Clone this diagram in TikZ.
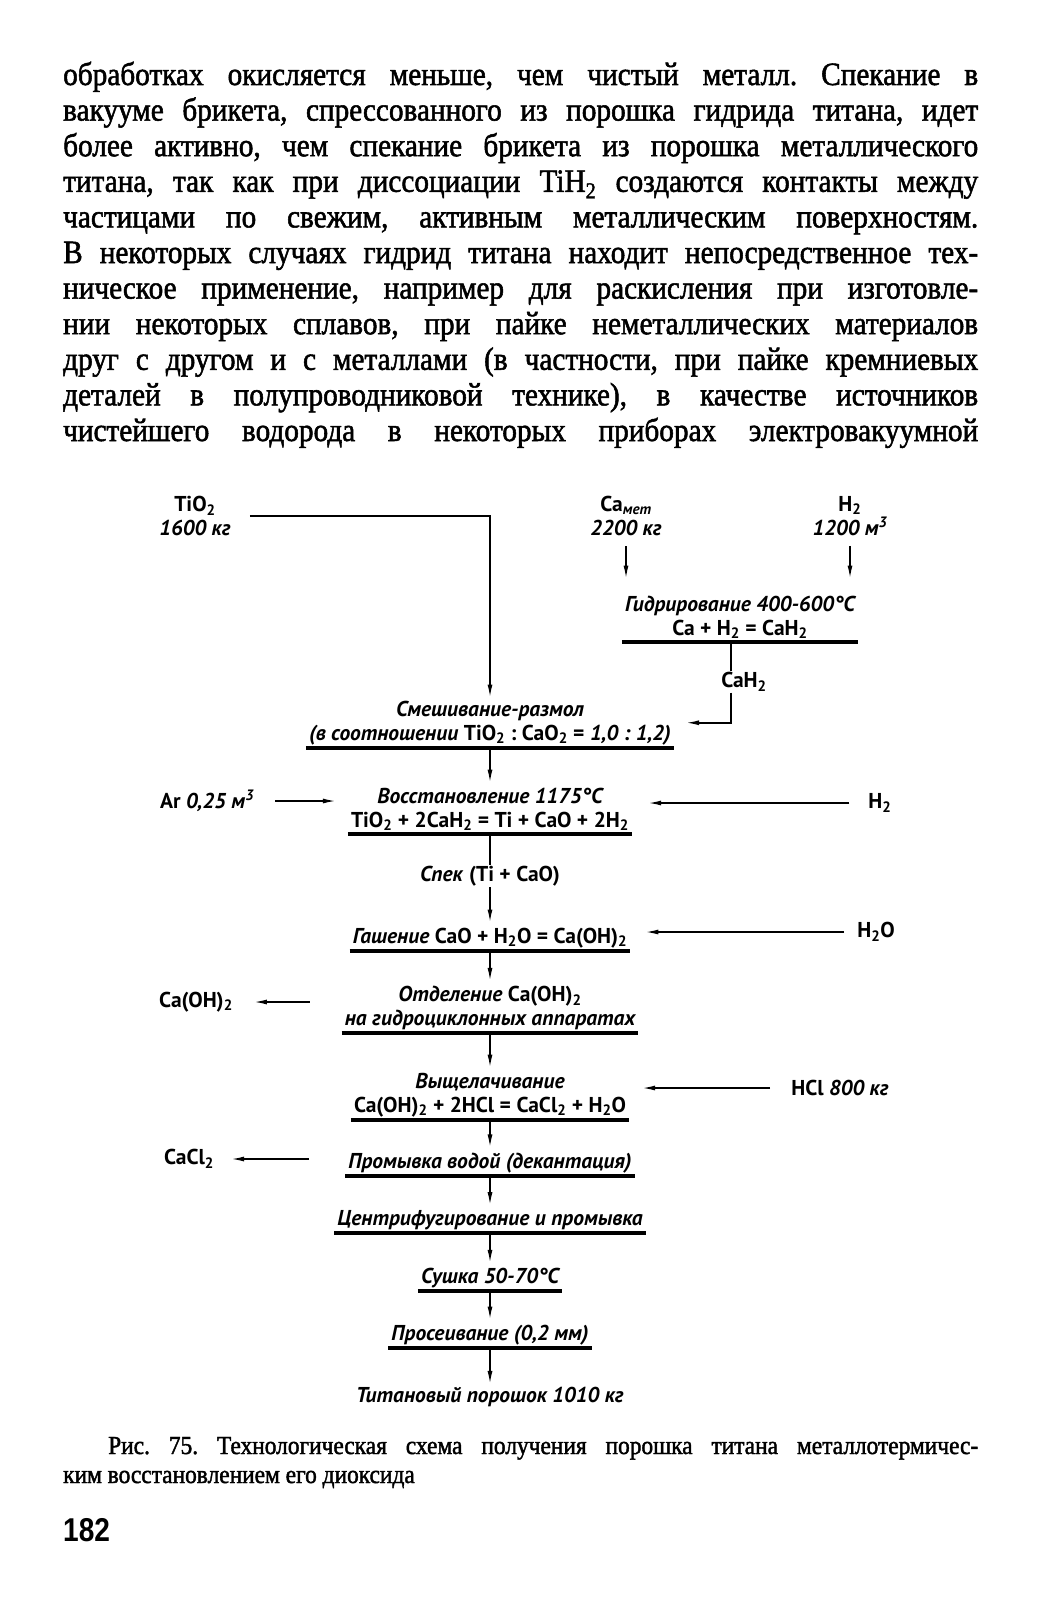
\documentclass[tikz,border=0pt]{standalone}
\usepackage{fontspec}
\setmainfont{Liberation Serif}[FakeStretch=0.9, FakeBold=1.6]
\newfontfamily\schemefont{PT Sans}
\newfontfamily\pagefont{Liberation Sans}[FakeStretch=0.85]
\usetikzlibrary{arrows.meta,calc}
\frenchspacing

\newcommand{\ch}[1]{\textup{#1}}
\newcommand{\lowidx}[1]{\textsubscript{#1}}

\tikzset{
  feed/.style={font=\schemefont\bfseries\itshape\fontsize{21.5}{24}\selectfont, align=center, inner sep=1pt},
  stage/.style={feed, anchor=south, inner xsep=3pt, inner ysep=3pt},
  bar/.style={line width=3.5pt},
  link/.style={line width=1.5pt},
  flow/.style={link, -{Latex[length=13pt,width=5pt]}},
  bodyline/.style={anchor=base west, inner sep=0pt, font=\fontsize{32.5}{35}\selectfont},
  capline/.style={anchor=base west, inner sep=0pt, font=\fontsize{26}{28}\selectfont},
}

\begin{document}
\begin{tikzpicture}[x=1pt,y=-1pt]
	\fill[white] (0,0) rectangle (1042,1600);
	\useasboundingbox (0,0) rectangle (1042,1600);

	% text above the scheme
	\foreach \txt [count=\i] in {
		{обработках окисляется меньше, чем чистый металл. Спекание в},
		{вакууме брикета, спрессованного из порошка гидрида титана, идет},
		{более активно, чем спекание брикета из порошка металлического},
		{титана, так как при диссоциации TiH\lowidx{2} создаются контакты между},
		{частицами по свежим, активным металлическим поверхностям.},
		{В некоторых случаях гидрид титана находит непосредственное тех-},
		{ническое применение, например для раскисления при изготовле-},
		{нии некоторых сплавов, при пайке неметаллических материалов},
		{друг с другом и с металлами (в частности, при пайке кремниевых},
		{деталей в полупроводниковой технике), в качестве источников},
		{чистейшего водорода в некоторых приборах электровакуумной}}
		\node[bodyline] (line\i) at (63,{85+35.6*(\i-1)}) {\makebox[915pt][s]{\txt}};

	% inputs
	\node[feed] (tio) at (195,516) {\ch{TiO\lowidx{2}}\\1600 кг};
	\node[feed] (cam) at (626,516) {\ch{Ca\lowidx{\itshape мет}}\\2200 кг};
	\node[feed] (hin) at (850,516) {\ch{H\lowidx{2}}\\1200 м\textsuperscript{3}};

	% stages
	\node[stage] (hyd) at (740,642) {Гидрирование 400-600°C\\\ch{Ca + H\lowidx{2} = CaH\lowidx{2}}};
	\node[feed] (cah) at (744,682) {\ch{CaH\lowidx{2}}};
	\node[stage] (mix) at (490,748) {Смешивание-размол\\(в соотношении \ch{TiO\lowidx{2} : CaO\lowidx{2} =} 1,0 : 1,2)};
	\node[stage] (red) at (490,834) {Восстановление 1175°C\\\ch{TiO\lowidx{2} + 2CaH\lowidx{2} = Ti + CaO + 2H\lowidx{2}}};
	\node[feed] (ar) at (207,801) {\ch{Ar} 0,25 м\textsuperscript{3}};
	\node[feed] (hred) at (880,803) {\ch{H\lowidx{2}}};
	\node[feed] (spek) at (490,876) {Спек \ch{(Ti + CaO)}};
	\node[stage] (gash) at (490,951) {Гашение \ch{CaO + H\lowidx{2}O = Ca(OH)\lowidx{2}}};
	\node[feed] (hwat) at (876,932) {\ch{H\lowidx{2}O}};
	\node[stage] (otd) at (490,1033) {Отделение \ch{Ca(OH)\lowidx{2}}\\на гидроциклонных аппаратах};
	\node[feed] (coh) at (196,1002) {\ch{Ca(OH)\lowidx{2}}};
	\node[stage] (vysh) at (490,1120) {Выщелачивание\\\ch{Ca(OH)\lowidx{2} + 2HCl = CaCl\lowidx{2} + H\lowidx{2}O}};
	\node[feed] (hcl) at (840,1088) {\ch{HCl} 800 кг};
	\node[stage] (prom) at (490,1176) {Промывка водой (декантация)};
	\node[feed] (ccl) at (189,1159) {\ch{CaCl\lowidx{2}}};
	\node[stage] (cent) at (490,1233) {Центрифугирование и промывка};
	\node[stage] (dry) at (490,1291) {Сушка 50-70°C};
	\node[stage] (sieve) at (490,1348) {Просеивание (0,2 мм)};
	\node[feed] (tpow) at (490,1397) {Титановый порошок 1010 кг};

	% underlines
	\foreach \s in {hyd,mix,red,gash,otd,vysh,prom,cent,dry,sieve}
		\draw[bar] (\s.south west) -- (\s.south east);

	% connectors
	\draw[flow] ([xshift=18pt]tio.east) -| (mix.north);
	\draw[flow, shorten <=9pt, shorten >=14pt] (cam.south) -- (cam.south |- hyd.north);
	\draw[flow, shorten <=9pt, shorten >=14pt] (hin.south) -- (hin.south |- hyd.north);
	\coordinate (hv) at (731,642);
	\draw[link] (hv) -- (hv |- cah.north);
	\draw[flow] (hv |- cah.south) |- ([xshift=12pt]mix.east);
	\draw[flow, shorten >=2pt] (mix.south) -- (red.north);
	\draw[flow] ([xshift=20pt]ar.east) -- ($(ar.east -| red.west)+(-12,0)$);
	\draw[flow] ([xshift=-18pt]hred.west) -- ($(hred.west -| red.east)+(16,0)$);
	\draw[link] (red.south) -- (spek.north);
	\draw[flow, shorten >=2pt] (spek.south) -- (gash.north);
	\draw[flow] ([xshift=-12pt]hwat.west) -- ($(hwat.west -| gash.east)+(15,0)$);
	\draw[flow, shorten >=2pt] (gash.south) -- (otd.north);
	\draw[flow] ($(coh.east -| otd.west)+(-32,0)$) -- ([xshift=20pt]coh.east);
	\draw[flow, shorten >=2pt] (otd.south) -- (vysh.north);
	\draw[flow] ([xshift=-20pt]hcl.west) -- ($(hcl.west -| vysh.east)+(13,0)$);
	\draw[flow, shorten >=2pt] (vysh.south) -- (prom.north);
	\draw[flow] ($(ccl.east -| prom.west)+(-36,0)$) -- ([xshift=16pt]ccl.east);
	\draw[flow, shorten >=2pt] (prom.south) -- (cent.north);
	\draw[flow, shorten >=2pt] (cent.south) -- (dry.north);
	\draw[flow, shorten >=2pt] (dry.south) -- (sieve.north);
	\draw[flow, shorten >=2pt] (sieve.south) -- (tpow.north);

	% caption and page number
	\node[capline] (cap1) at (108,1454) {\makebox[870pt][s]{Рис. 75. Технологическая схема получения порошка титана металлотермичес-}};
	\node[capline] (cap2) at (63,1483) {ким восстановлением его диоксида};
	\node[anchor=base west, inner sep=0pt, font=\pagefont\bfseries\fontsize{33}{36}\selectfont] (pageno) at (63,1541) {182};
\end{tikzpicture}
\end{document}
